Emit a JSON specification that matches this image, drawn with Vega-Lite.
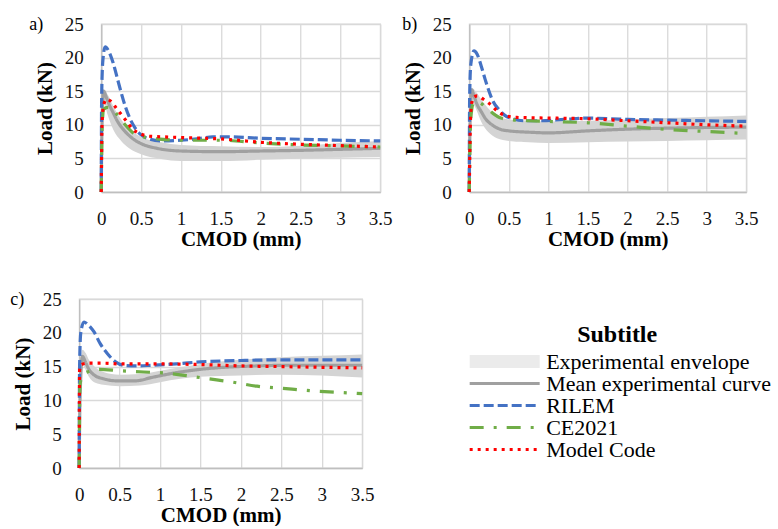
{
  "$schema": "https://vega.github.io/schema/vega-lite/v6.json",
  "background": "white",
  "padding": {"left": 4, "top": 14, "right": 0, "bottom": 0},
  "datasets": {
    "lines": [
      {"panel": "a", "series": "Mean experimental curve", "cmod": 0, "load": 0},
      {"panel": "a", "series": "Mean experimental curve", "cmod": 0.01, "load": 10},
      {"panel": "a", "series": "Mean experimental curve", "cmod": 0.03, "load": 15.0},
      {"panel": "a", "series": "Mean experimental curve", "cmod": 0.06, "load": 14.2},
      {"panel": "a", "series": "Mean experimental curve", "cmod": 0.1, "load": 13.0},
      {"panel": "a", "series": "Mean experimental curve", "cmod": 0.15, "load": 11.8},
      {"panel": "a", "series": "Mean experimental curve", "cmod": 0.2, "load": 10.6},
      {"panel": "a", "series": "Mean experimental curve", "cmod": 0.3, "load": 9.0},
      {"panel": "a", "series": "Mean experimental curve", "cmod": 0.4, "load": 7.9},
      {"panel": "a", "series": "Mean experimental curve", "cmod": 0.5, "load": 7.2},
      {"panel": "a", "series": "Mean experimental curve", "cmod": 0.7, "load": 6.5},
      {"panel": "a", "series": "Mean experimental curve", "cmod": 1.0, "load": 6.1},
      {"panel": "a", "series": "Mean experimental curve", "cmod": 1.5, "load": 6.0},
      {"panel": "a", "series": "Mean experimental curve", "cmod": 2.0, "load": 6.1},
      {"panel": "a", "series": "Mean experimental curve", "cmod": 2.5, "load": 6.2},
      {"panel": "a", "series": "Mean experimental curve", "cmod": 3.0, "load": 6.35},
      {"panel": "a", "series": "Mean experimental curve", "cmod": 3.5, "load": 6.5},

      {"panel": "a", "series": "RILEM", "cmod": 0, "load": 0},
      {"panel": "a", "series": "RILEM", "cmod": 0.005, "load": 14},
      {"panel": "a", "series": "RILEM", "cmod": 0.02, "load": 19.5},
      {"panel": "a", "series": "RILEM", "cmod": 0.05, "load": 21.6},
      {"panel": "a", "series": "RILEM", "cmod": 0.1, "load": 20.8},
      {"panel": "a", "series": "RILEM", "cmod": 0.15, "load": 19.2},
      {"panel": "a", "series": "RILEM", "cmod": 0.2, "load": 17.0},
      {"panel": "a", "series": "RILEM", "cmod": 0.25, "load": 14.8},
      {"panel": "a", "series": "RILEM", "cmod": 0.3, "load": 12.8},
      {"panel": "a", "series": "RILEM", "cmod": 0.35, "load": 11.2},
      {"panel": "a", "series": "RILEM", "cmod": 0.4, "load": 10.0},
      {"panel": "a", "series": "RILEM", "cmod": 0.45, "load": 9.1},
      {"panel": "a", "series": "RILEM", "cmod": 0.5, "load": 8.5},
      {"panel": "a", "series": "RILEM", "cmod": 0.6, "load": 7.9},
      {"panel": "a", "series": "RILEM", "cmod": 0.75, "load": 7.6},
      {"panel": "a", "series": "RILEM", "cmod": 1.0, "load": 7.7},
      {"panel": "a", "series": "RILEM", "cmod": 1.2, "load": 7.9},
      {"panel": "a", "series": "RILEM", "cmod": 1.4, "load": 8.2},
      {"panel": "a", "series": "RILEM", "cmod": 1.6, "load": 8.2},
      {"panel": "a", "series": "RILEM", "cmod": 2.0, "load": 8.0},
      {"panel": "a", "series": "RILEM", "cmod": 2.5, "load": 7.85},
      {"panel": "a", "series": "RILEM", "cmod": 3.0, "load": 7.7},
      {"panel": "a", "series": "RILEM", "cmod": 3.5, "load": 7.6},

      {"panel": "a", "series": "CE2021", "cmod": 0, "load": 0},
      {"panel": "a", "series": "CE2021", "cmod": 0.01, "load": 9},
      {"panel": "a", "series": "CE2021", "cmod": 0.03, "load": 12.3},
      {"panel": "a", "series": "CE2021", "cmod": 0.08, "load": 12.6},
      {"panel": "a", "series": "CE2021", "cmod": 0.13, "load": 12.5},
      {"panel": "a", "series": "CE2021", "cmod": 0.2, "load": 11.5},
      {"panel": "a", "series": "CE2021", "cmod": 0.3, "load": 10.0},
      {"panel": "a", "series": "CE2021", "cmod": 0.4, "load": 8.8},
      {"panel": "a", "series": "CE2021", "cmod": 0.5, "load": 8.3},
      {"panel": "a", "series": "CE2021", "cmod": 0.7, "load": 7.9},
      {"panel": "a", "series": "CE2021", "cmod": 1.0, "load": 7.7},
      {"panel": "a", "series": "CE2021", "cmod": 1.5, "load": 7.7},
      {"panel": "a", "series": "CE2021", "cmod": 2.0, "load": 7.3},
      {"panel": "a", "series": "CE2021", "cmod": 2.5, "load": 7.0},
      {"panel": "a", "series": "CE2021", "cmod": 3.0, "load": 6.85},
      {"panel": "a", "series": "CE2021", "cmod": 3.5, "load": 6.7},

      {"panel": "a", "series": "Model Code", "cmod": 0, "load": 0},
      {"panel": "a", "series": "Model Code", "cmod": 0.01, "load": 10},
      {"panel": "a", "series": "Model Code", "cmod": 0.03, "load": 13},
      {"panel": "a", "series": "Model Code", "cmod": 0.07, "load": 13.8},
      {"panel": "a", "series": "Model Code", "cmod": 0.12, "load": 13.5},
      {"panel": "a", "series": "Model Code", "cmod": 0.2, "load": 12.3},
      {"panel": "a", "series": "Model Code", "cmod": 0.3, "load": 10.8},
      {"panel": "a", "series": "Model Code", "cmod": 0.4, "load": 9.3},
      {"panel": "a", "series": "Model Code", "cmod": 0.5, "load": 8.6},
      {"panel": "a", "series": "Model Code", "cmod": 0.6, "load": 8.3},
      {"panel": "a", "series": "Model Code", "cmod": 0.8, "load": 8.2},
      {"panel": "a", "series": "Model Code", "cmod": 1.0, "load": 8.1},
      {"panel": "a", "series": "Model Code", "cmod": 1.5, "load": 7.9},
      {"panel": "a", "series": "Model Code", "cmod": 2.0, "load": 7.4},
      {"panel": "a", "series": "Model Code", "cmod": 2.5, "load": 7.1},
      {"panel": "a", "series": "Model Code", "cmod": 3.0, "load": 6.9},
      {"panel": "a", "series": "Model Code", "cmod": 3.5, "load": 6.7},

      {"panel": "b", "series": "Mean experimental curve", "cmod": 0, "load": 0},
      {"panel": "b", "series": "Mean experimental curve", "cmod": 0.01, "load": 10},
      {"panel": "b", "series": "Mean experimental curve", "cmod": 0.03, "load": 15.2},
      {"panel": "b", "series": "Mean experimental curve", "cmod": 0.06, "load": 14.3},
      {"panel": "b", "series": "Mean experimental curve", "cmod": 0.1, "load": 13.0},
      {"panel": "b", "series": "Mean experimental curve", "cmod": 0.15, "load": 12.0},
      {"panel": "b", "series": "Mean experimental curve", "cmod": 0.2, "load": 11.0},
      {"panel": "b", "series": "Mean experimental curve", "cmod": 0.3, "load": 9.9},
      {"panel": "b", "series": "Mean experimental curve", "cmod": 0.4, "load": 9.3},
      {"panel": "b", "series": "Mean experimental curve", "cmod": 0.5, "load": 9.1},
      {"panel": "b", "series": "Mean experimental curve", "cmod": 0.75, "load": 8.9},
      {"panel": "b", "series": "Mean experimental curve", "cmod": 1.0, "load": 8.8},
      {"panel": "b", "series": "Mean experimental curve", "cmod": 1.5, "load": 9.1},
      {"panel": "b", "series": "Mean experimental curve", "cmod": 2.0, "load": 9.35},
      {"panel": "b", "series": "Mean experimental curve", "cmod": 2.5, "load": 9.5},
      {"panel": "b", "series": "Mean experimental curve", "cmod": 3.0, "load": 9.6},
      {"panel": "b", "series": "Mean experimental curve", "cmod": 3.5, "load": 9.65},

      {"panel": "b", "series": "RILEM", "cmod": 0, "load": 0},
      {"panel": "b", "series": "RILEM", "cmod": 0.005, "load": 14},
      {"panel": "b", "series": "RILEM", "cmod": 0.02, "load": 19},
      {"panel": "b", "series": "RILEM", "cmod": 0.06, "load": 21.0},
      {"panel": "b", "series": "RILEM", "cmod": 0.1, "load": 20.5},
      {"panel": "b", "series": "RILEM", "cmod": 0.15, "load": 18.8},
      {"panel": "b", "series": "RILEM", "cmod": 0.2, "load": 16.8},
      {"panel": "b", "series": "RILEM", "cmod": 0.25, "load": 15.0},
      {"panel": "b", "series": "RILEM", "cmod": 0.3, "load": 13.5},
      {"panel": "b", "series": "RILEM", "cmod": 0.38, "load": 12.2},
      {"panel": "b", "series": "RILEM", "cmod": 0.45, "load": 11.4},
      {"panel": "b", "series": "RILEM", "cmod": 0.55, "load": 10.9},
      {"panel": "b", "series": "RILEM", "cmod": 0.7, "load": 10.6},
      {"panel": "b", "series": "RILEM", "cmod": 0.9, "load": 10.6},
      {"panel": "b", "series": "RILEM", "cmod": 1.2, "load": 10.8},
      {"panel": "b", "series": "RILEM", "cmod": 1.5, "load": 11.0},
      {"panel": "b", "series": "RILEM", "cmod": 1.8, "load": 10.9},
      {"panel": "b", "series": "RILEM", "cmod": 2.0, "load": 10.8},
      {"panel": "b", "series": "RILEM", "cmod": 2.5, "load": 10.7},
      {"panel": "b", "series": "RILEM", "cmod": 3.0, "load": 10.6},
      {"panel": "b", "series": "RILEM", "cmod": 3.5, "load": 10.5},

      {"panel": "b", "series": "CE2021", "cmod": 0, "load": 0},
      {"panel": "b", "series": "CE2021", "cmod": 0.02, "load": 11},
      {"panel": "b", "series": "CE2021", "cmod": 0.05, "load": 13.2},
      {"panel": "b", "series": "CE2021", "cmod": 0.09, "load": 13.5},
      {"panel": "b", "series": "CE2021", "cmod": 0.15, "load": 13.2},
      {"panel": "b", "series": "CE2021", "cmod": 0.2, "load": 12.7},
      {"panel": "b", "series": "CE2021", "cmod": 0.3, "load": 11.7},
      {"panel": "b", "series": "CE2021", "cmod": 0.4, "load": 11.0},
      {"panel": "b", "series": "CE2021", "cmod": 0.5, "load": 10.8},
      {"panel": "b", "series": "CE2021", "cmod": 0.75, "load": 10.6},
      {"panel": "b", "series": "CE2021", "cmod": 1.0, "load": 10.5},
      {"panel": "b", "series": "CE2021", "cmod": 1.5, "load": 10.3},
      {"panel": "b", "series": "CE2021", "cmod": 2.0, "load": 9.8},
      {"panel": "b", "series": "CE2021", "cmod": 2.5, "load": 9.3},
      {"panel": "b", "series": "CE2021", "cmod": 3.0, "load": 9.0},
      {"panel": "b", "series": "CE2021", "cmod": 3.5, "load": 8.7},

      {"panel": "b", "series": "Model Code", "cmod": 0, "load": 0},
      {"panel": "b", "series": "Model Code", "cmod": 0.02, "load": 12},
      {"panel": "b", "series": "Model Code", "cmod": 0.05, "load": 14.0},
      {"panel": "b", "series": "Model Code", "cmod": 0.1, "load": 14.3},
      {"panel": "b", "series": "Model Code", "cmod": 0.18, "load": 13.8},
      {"panel": "b", "series": "Model Code", "cmod": 0.25, "load": 13.2},
      {"panel": "b", "series": "Model Code", "cmod": 0.35, "load": 12.1},
      {"panel": "b", "series": "Model Code", "cmod": 0.45, "load": 11.4},
      {"panel": "b", "series": "Model Code", "cmod": 0.6, "load": 11.1},
      {"panel": "b", "series": "Model Code", "cmod": 1.0, "load": 11.0},
      {"panel": "b", "series": "Model Code", "cmod": 1.5, "load": 10.9},
      {"panel": "b", "series": "Model Code", "cmod": 2.0, "load": 10.6},
      {"panel": "b", "series": "Model Code", "cmod": 2.5, "load": 10.3},
      {"panel": "b", "series": "Model Code", "cmod": 3.0, "load": 10.0},
      {"panel": "b", "series": "Model Code", "cmod": 3.5, "load": 9.8},

      {"panel": "c", "series": "Mean experimental curve", "cmod": 0, "load": 0},
      {"panel": "c", "series": "Mean experimental curve", "cmod": 0.01, "load": 10},
      {"panel": "c", "series": "Mean experimental curve", "cmod": 0.04, "load": 16.5},
      {"panel": "c", "series": "Mean experimental curve", "cmod": 0.08, "load": 15.6},
      {"panel": "c", "series": "Mean experimental curve", "cmod": 0.12, "load": 14.6},
      {"panel": "c", "series": "Mean experimental curve", "cmod": 0.18, "load": 13.8},
      {"panel": "c", "series": "Mean experimental curve", "cmod": 0.3, "load": 13.2},
      {"panel": "c", "series": "Mean experimental curve", "cmod": 0.45, "load": 12.9},
      {"panel": "c", "series": "Mean experimental curve", "cmod": 0.7, "load": 12.9},
      {"panel": "c", "series": "Mean experimental curve", "cmod": 0.9, "load": 13.4},
      {"panel": "c", "series": "Mean experimental curve", "cmod": 1.2, "load": 14.1},
      {"panel": "c", "series": "Mean experimental curve", "cmod": 1.5, "load": 14.6},
      {"panel": "c", "series": "Mean experimental curve", "cmod": 1.8, "load": 14.9},
      {"panel": "c", "series": "Mean experimental curve", "cmod": 2.2, "load": 15.1},
      {"panel": "c", "series": "Mean experimental curve", "cmod": 2.6, "load": 15.2},
      {"panel": "c", "series": "Mean experimental curve", "cmod": 3.0, "load": 15.2},
      {"panel": "c", "series": "Mean experimental curve", "cmod": 3.5, "load": 15.2},

      {"panel": "c", "series": "RILEM", "cmod": 0, "load": 0},
      {"panel": "c", "series": "RILEM", "cmod": 0.005, "load": 15},
      {"panel": "c", "series": "RILEM", "cmod": 0.02, "load": 20},
      {"panel": "c", "series": "RILEM", "cmod": 0.06, "load": 21.6},
      {"panel": "c", "series": "RILEM", "cmod": 0.1, "load": 21.3},
      {"panel": "c", "series": "RILEM", "cmod": 0.18, "load": 20.2},
      {"panel": "c", "series": "RILEM", "cmod": 0.26, "load": 18.4},
      {"panel": "c", "series": "RILEM", "cmod": 0.35, "load": 16.9},
      {"panel": "c", "series": "RILEM", "cmod": 0.45, "load": 15.7},
      {"panel": "c", "series": "RILEM", "cmod": 0.55, "load": 15.2},
      {"panel": "c", "series": "RILEM", "cmod": 0.7, "load": 15.1},
      {"panel": "c", "series": "RILEM", "cmod": 0.9, "load": 15.2},
      {"panel": "c", "series": "RILEM", "cmod": 1.2, "load": 15.4},
      {"panel": "c", "series": "RILEM", "cmod": 1.5, "load": 15.7},
      {"panel": "c", "series": "RILEM", "cmod": 2.0, "load": 15.9},
      {"panel": "c", "series": "RILEM", "cmod": 2.5, "load": 16.0},
      {"panel": "c", "series": "RILEM", "cmod": 3.0, "load": 16.0},
      {"panel": "c", "series": "RILEM", "cmod": 3.5, "load": 16.0},

      {"panel": "c", "series": "CE2021", "cmod": 0, "load": 0},
      {"panel": "c", "series": "CE2021", "cmod": 0.01, "load": 12.4},
      {"panel": "c", "series": "CE2021", "cmod": 0.05, "load": 13.8},
      {"panel": "c", "series": "CE2021", "cmod": 0.1, "load": 14.2},
      {"panel": "c", "series": "CE2021", "cmod": 0.25, "load": 14.6},
      {"panel": "c", "series": "CE2021", "cmod": 0.5, "load": 14.4},
      {"panel": "c", "series": "CE2021", "cmod": 0.8, "load": 14.2},
      {"panel": "c", "series": "CE2021", "cmod": 1.0, "load": 14.1},
      {"panel": "c", "series": "CE2021", "cmod": 1.3, "load": 13.7},
      {"panel": "c", "series": "CE2021", "cmod": 1.6, "load": 13.2},
      {"panel": "c", "series": "CE2021", "cmod": 1.9, "load": 12.7},
      {"panel": "c", "series": "CE2021", "cmod": 2.2, "load": 12.1},
      {"panel": "c", "series": "CE2021", "cmod": 2.5, "load": 11.8},
      {"panel": "c", "series": "CE2021", "cmod": 2.9, "load": 11.4},
      {"panel": "c", "series": "CE2021", "cmod": 3.2, "load": 11.2},
      {"panel": "c", "series": "CE2021", "cmod": 3.5, "load": 11.0},

      {"panel": "c", "series": "Model Code", "cmod": 0, "load": 0},
      {"panel": "c", "series": "Model Code", "cmod": 0.005, "load": 14.5},
      {"panel": "c", "series": "Model Code", "cmod": 0.03, "load": 15.3},
      {"panel": "c", "series": "Model Code", "cmod": 0.1, "load": 15.5},
      {"panel": "c", "series": "Model Code", "cmod": 0.3, "load": 15.5},
      {"panel": "c", "series": "Model Code", "cmod": 0.5, "load": 15.4},
      {"panel": "c", "series": "Model Code", "cmod": 1.0, "load": 15.4},
      {"panel": "c", "series": "Model Code", "cmod": 1.5, "load": 15.3},
      {"panel": "c", "series": "Model Code", "cmod": 2.0, "load": 15.1},
      {"panel": "c", "series": "Model Code", "cmod": 2.5, "load": 15.0},
      {"panel": "c", "series": "Model Code", "cmod": 3.0, "load": 14.9},
      {"panel": "c", "series": "Model Code", "cmod": 3.5, "load": 14.8}
    ],
    "env": [
      {"panel": "a", "cmod": 0, "lo": 0, "hi": 0},
      {"panel": "a", "cmod": 0.01, "lo": 8, "hi": 14},
      {"panel": "a", "cmod": 0.03, "lo": 13.5, "hi": 15.3},
      {"panel": "a", "cmod": 0.08, "lo": 11.5, "hi": 14.5},
      {"panel": "a", "cmod": 0.15, "lo": 9.3, "hi": 12.8},
      {"panel": "a", "cmod": 0.25, "lo": 7.6, "hi": 10.8},
      {"panel": "a", "cmod": 0.35, "lo": 6.5, "hi": 9.4},
      {"panel": "a", "cmod": 0.5, "lo": 5.6, "hi": 8.2},
      {"panel": "a", "cmod": 0.75, "lo": 4.9, "hi": 7.4},
      {"panel": "a", "cmod": 1.0, "lo": 4.6, "hi": 7.0},
      {"panel": "a", "cmod": 1.5, "lo": 4.6, "hi": 6.8},
      {"panel": "a", "cmod": 2.0, "lo": 4.8, "hi": 6.7},
      {"panel": "a", "cmod": 2.5, "lo": 5.0, "hi": 6.9},
      {"panel": "a", "cmod": 3.0, "lo": 5.1, "hi": 7.3},
      {"panel": "a", "cmod": 3.5, "lo": 5.2, "hi": 7.6},

      {"panel": "b", "cmod": 0, "lo": 0, "hi": 0},
      {"panel": "b", "cmod": 0.01, "lo": 9, "hi": 14},
      {"panel": "b", "cmod": 0.03, "lo": 13.5, "hi": 15.5},
      {"panel": "b", "cmod": 0.08, "lo": 12.5, "hi": 15.0},
      {"panel": "b", "cmod": 0.15, "lo": 10.5, "hi": 13.8},
      {"panel": "b", "cmod": 0.25, "lo": 8.8, "hi": 12.3},
      {"panel": "b", "cmod": 0.35, "lo": 8.0, "hi": 11.3},
      {"panel": "b", "cmod": 0.5, "lo": 7.6, "hi": 10.8},
      {"panel": "b", "cmod": 0.75, "lo": 7.4, "hi": 10.6},
      {"panel": "b", "cmod": 1.0, "lo": 7.3, "hi": 10.5},
      {"panel": "b", "cmod": 1.5, "lo": 7.4, "hi": 10.6},
      {"panel": "b", "cmod": 2.0, "lo": 7.5, "hi": 10.8},
      {"panel": "b", "cmod": 2.5, "lo": 7.6, "hi": 11.0},
      {"panel": "b", "cmod": 3.0, "lo": 7.7, "hi": 11.2},
      {"panel": "b", "cmod": 3.5, "lo": 7.8, "hi": 11.4},

      {"panel": "c", "cmod": 0, "lo": 0, "hi": 0},
      {"panel": "c", "cmod": 0.01, "lo": 8, "hi": 13},
      {"panel": "c", "cmod": 0.04, "lo": 15.3, "hi": 17.5},
      {"panel": "c", "cmod": 0.08, "lo": 14.5, "hi": 17.0},
      {"panel": "c", "cmod": 0.12, "lo": 13.5, "hi": 16.0},
      {"panel": "c", "cmod": 0.2, "lo": 12.6, "hi": 14.9},
      {"panel": "c", "cmod": 0.3, "lo": 12.3, "hi": 14.2},
      {"panel": "c", "cmod": 0.5, "lo": 12.1, "hi": 13.8},
      {"panel": "c", "cmod": 0.75, "lo": 12.2, "hi": 13.9},
      {"panel": "c", "cmod": 1.0, "lo": 12.7, "hi": 14.4},
      {"panel": "c", "cmod": 1.25, "lo": 13.2, "hi": 14.9},
      {"panel": "c", "cmod": 1.5, "lo": 13.5, "hi": 15.4},
      {"panel": "c", "cmod": 2.0, "lo": 13.7, "hi": 16.0},
      {"panel": "c", "cmod": 2.5, "lo": 13.8, "hi": 16.4},
      {"panel": "c", "cmod": 3.0, "lo": 13.7, "hi": 16.6},
      {"panel": "c", "cmod": 3.5, "lo": 13.4, "hi": 16.8}
    ]
  },
  "vconcat": [
    {
      "title": {"text": "\u00a0", "orient": "left", "frame": "bounds", "anchor": "middle", "baseline": "bottom", "offset": 20, "fontSize": 2, "dx": 0},
      "spacing": 8,
      "hconcat": [
        {
          "width": 279,
          "height": 168,
          "title": {"text": "a)", "dx": -72},
          "layer": [
            {
              "data": {"name": "env"},
              "transform": [{"filter": "datum.panel === 'a'"}],
              "mark": {"type": "area", "color": "#D4D4D4", "interpolate": "monotone"},
              "encoding": {
                "x": {"field": "cmod", "type": "quantitative", "scale": {"domain": [0, 3.5], "nice": false}, "axis": {"title": "CMOD (mm)", "values": [0, 0.5, 1, 1.5, 2, 2.5, 3, 3.5], "format": "~g", "labelFlush": false}},
                "y": {"field": "lo", "type": "quantitative", "scale": {"domain": [0, 25], "nice": false}, "axis": {"title": "Load (kN)", "values": [0, 5, 10, 15, 20, 25]}},
                "y2": {"field": "hi"}
              }
            },
            {
              "data": {"name": "lines"},
              "transform": [{"filter": "datum.panel === 'a'"}],
              "mark": {"type": "line", "interpolate": "monotone"},
              "encoding": {
                "x": {"field": "cmod", "type": "quantitative", "scale": {"domain": [0, 3.5], "nice": false}, "axis": {"title": "CMOD (mm)", "values": [0, 0.5, 1, 1.5, 2, 2.5, 3, 3.5], "format": "~g", "labelFlush": false}},
                "y": {"field": "load", "type": "quantitative", "scale": {"domain": [0, 25], "nice": false}, "axis": {"title": "Load (kN)", "values": [0, 5, 10, 15, 20, 25]}},
                "color": {"field": "series", "type": "nominal", "scale": {"domain": ["Experimental envelope", "Mean experimental curve", "RILEM", "CE2021", "Model Code"], "range": ["#EBEBEB", "#A0A0A0", "#4472C4", "#70AD47", "#FF0000"]}, "legend": null},
                "strokeDash": {"field": "series", "type": "nominal", "scale": {"domain": ["Experimental envelope", "Mean experimental curve", "RILEM", "CE2021", "Model Code"], "range": [[1, 0], [1, 0], [10, 4], [14, 10, 3, 10], [3, 5]]}, "legend": null},
                "strokeWidth": {"field": "series", "type": "nominal", "scale": {"type": "ordinal", "domain": ["Experimental envelope", "Mean experimental curve", "RILEM", "CE2021", "Model Code"], "range": [13, 3.2, 3.2, 3.2, 3.2]}, "legend": null}
              }
            }
          ]
        },
        {
          "width": 277,
          "height": 168,
          "title": {"text": "b)", "dx": -67},
          "layer": [
            {
              "data": {"name": "env"},
              "transform": [{"filter": "datum.panel === 'b'"}],
              "mark": {"type": "area", "color": "#D4D4D4", "interpolate": "monotone"},
              "encoding": {
                "x": {"field": "cmod", "type": "quantitative", "scale": {"domain": [0, 3.5], "nice": false}, "axis": {"title": "CMOD (mm)", "values": [0, 0.5, 1, 1.5, 2, 2.5, 3, 3.5], "format": "~g", "labelFlush": false}},
                "y": {"field": "lo", "type": "quantitative", "scale": {"domain": [0, 25], "nice": false}, "axis": {"title": "Load (kN)", "values": [0, 5, 10, 15, 20, 25]}},
                "y2": {"field": "hi"}
              }
            },
            {
              "data": {"name": "lines"},
              "transform": [{"filter": "datum.panel === 'b'"}],
              "mark": {"type": "line", "interpolate": "monotone"},
              "encoding": {
                "x": {"field": "cmod", "type": "quantitative", "scale": {"domain": [0, 3.5], "nice": false}, "axis": {"title": "CMOD (mm)", "values": [0, 0.5, 1, 1.5, 2, 2.5, 3, 3.5], "format": "~g", "labelFlush": false}},
                "y": {"field": "load", "type": "quantitative", "scale": {"domain": [0, 25], "nice": false}, "axis": {"title": "Load (kN)", "values": [0, 5, 10, 15, 20, 25]}},
                "color": {"field": "series", "type": "nominal", "scale": {"domain": ["Experimental envelope", "Mean experimental curve", "RILEM", "CE2021", "Model Code"], "range": ["#EBEBEB", "#A0A0A0", "#4472C4", "#70AD47", "#FF0000"]}, "legend": null},
                "strokeDash": {"field": "series", "type": "nominal", "scale": {"domain": ["Experimental envelope", "Mean experimental curve", "RILEM", "CE2021", "Model Code"], "range": [[1, 0], [1, 0], [10, 4], [14, 10, 3, 10], [3, 5]]}, "legend": null},
                "strokeWidth": {"field": "series", "type": "nominal", "scale": {"type": "ordinal", "domain": ["Experimental envelope", "Mean experimental curve", "RILEM", "CE2021", "Model Code"], "range": [13, 3.2, 3.2, 3.2, 3.2]}, "legend": null}
              }
            }
          ]
        }
      ]
    },
    {
      "width": 283,
      "height": 169,
      "title": {"text": "c)", "dx": -69},
      "layer": [
        {
          "data": {"name": "env"},
          "transform": [{"filter": "datum.panel === 'c'"}],
          "mark": {"type": "area", "color": "#D4D4D4", "interpolate": "monotone"},
          "encoding": {
            "x": {"field": "cmod", "type": "quantitative", "scale": {"domain": [0, 3.5], "nice": false}, "axis": {"title": "CMOD (mm)", "values": [0, 0.5, 1, 1.5, 2, 2.5, 3, 3.5], "format": "~g", "labelFlush": false}},
            "y": {"field": "lo", "type": "quantitative", "scale": {"domain": [0, 25], "nice": false}, "axis": {"title": "Load (kN)", "values": [0, 5, 10, 15, 20, 25]}},
            "y2": {"field": "hi"}
          }
        },
        {
          "data": {"name": "lines"},
          "transform": [{"filter": "datum.panel === 'c'"}],
          "mark": {"type": "line", "interpolate": "monotone"},
          "encoding": {
            "x": {"field": "cmod", "type": "quantitative", "scale": {"domain": [0, 3.5], "nice": false}, "axis": {"title": "CMOD (mm)", "values": [0, 0.5, 1, 1.5, 2, 2.5, 3, 3.5], "format": "~g", "labelFlush": false}},
            "y": {"field": "load", "type": "quantitative", "scale": {"domain": [0, 25], "nice": false}, "axis": {"title": "Load (kN)", "values": [0, 5, 10, 15, 20, 25]}},
            "color": {"field": "series", "type": "nominal", "scale": {"domain": ["Experimental envelope", "Mean experimental curve", "RILEM", "CE2021", "Model Code"], "range": ["#EBEBEB", "#A0A0A0", "#4472C4", "#70AD47", "#FF0000"]}, "legend": {"title": "Subtitle"}},
            "strokeDash": {"field": "series", "type": "nominal", "scale": {"domain": ["Experimental envelope", "Mean experimental curve", "RILEM", "CE2021", "Model Code"], "range": [[1, 0], [1, 0], [10, 4], [14, 10, 3, 10], [3, 5]]}, "legend": {"title": "Subtitle"}},
            "strokeWidth": {"field": "series", "type": "nominal", "scale": {"type": "ordinal", "domain": ["Experimental envelope", "Mean experimental curve", "RILEM", "CE2021", "Model Code"], "range": [13, 3.2, 3.2, 3.2, 3.2]}, "legend": {"title": "Subtitle"}}
          }
        }
      ]
    }
  ],
  "center": true,
  "spacing": 39,
  "resolve": {"scale": {"color": "independent", "strokeDash": "independent", "strokeWidth": "independent"}},
  "config": {
    "font": "Liberation Serif",
    "view": {"stroke": "#D9D9D9", "strokeWidth": 1.3},
    "axis": {
      "labelFont": "Liberation Serif",
      "labelFontSize": 19,
      "labelColor": "#111111",
      "titleFont": "Liberation Serif",
      "titleFontSize": 21,
      "titleFontWeight": "bold",
      "titleColor": "#000000",
      "gridColor": "#D9D9D9",
      "gridWidth": 1.3,
      "domainColor": "#BFBFBF",
      "domainWidth": 1.3,
      "ticks": false
    },
    "axisX": {"labelPadding": 17, "titlePadding": 0},
    "axisY": {"labelPadding": 18, "titlePadding": 9},
    "title": {
      "font": "Liberation Serif",
      "fontSize": 18,
      "fontWeight": "normal",
      "color": "#000000",
      "anchor": "start",
      "frame": "group",
      "baseline": "alphabetic",
      "offset": -19
    },
    "legend": {
      "orient": "none",
      "legendX": 375,
      "legendY": 15,
      "direction": "vertical",
      "symbolType": "stroke",
      "symbolSize": 4900,
      "clipHeight": 21,
      "rowPadding": -3,
      "labelOffset": 0,
      "labelLimit": 400,
      "labelFont": "Liberation Serif",
      "labelFontSize": 22,
      "labelColor": "#000000",
      "titleFont": "Liberation Serif",
      "titleFontSize": 24,
      "titleFontWeight": "bold",
      "titleColor": "#000000",
      "titleAnchor": "middle",
      "titlePadding": 4,
      "padding": 9
    }
  }
}
